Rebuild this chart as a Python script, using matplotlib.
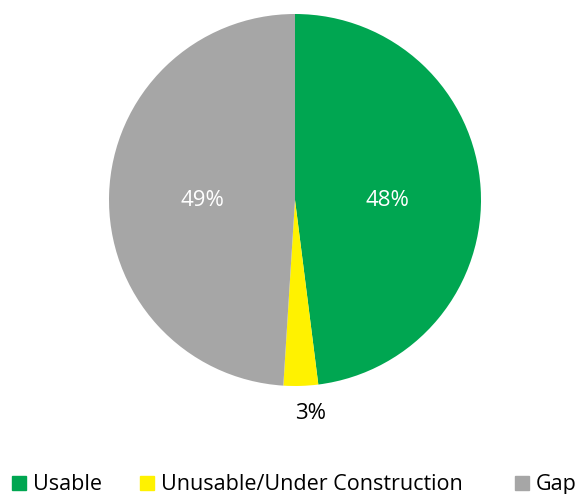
import matplotlib.pyplot as plt
from matplotlib.patches import Rectangle

labels = ['Usable', 'Unusable/Under Construction', 'Gap']
shares = [48, 3, 49]
colors = ['#00a651', '#fff200', '#a6a6a6']

plt.rcParams['font.family'] = ['Open Sans', 'DejaVu Sans']

W, H = 577, 494
fig = plt.figure(figsize=(W / 100, H / 100), dpi=100)

# pie: centre (295, 200) px, radius 186 px
cx, cy, r = 295, 200, 186
ax = fig.add_axes(((cx - r) / W, (H - cy - r) / H, 2 * r / W, 2 * r / H))
wedges, texts, autotexts = ax.pie(
    shares, colors=colors, startangle=90, counterclock=False,
    autopct='%d%%', pctdistance=0.5,
    textprops={'color': 'white', 'fontsize': 16},
)
ax.set_xlim(-1, 1)
ax.set_ylim(-1, 1)
ax.set_aspect('equal')
# big slice labels sit level with the centre
for t in (autotexts[0], autotexts[2]):
    x, y = t.get_position()
    t.set_position((x, 0))
# small slice label sits outside, in black
x, y = autotexts[1].get_position()
autotexts[1].set_position((x * 2.3 + 0.05, y * 2.3))
autotexts[1].set_color('black')
autotexts[1].set_clip_on(False)

# legend, placed by hand along the bottom
sq = 14
base = 490
legend_x = [12, 140, 515]
for lx, lab, col in zip(legend_x, labels, colors):
    fig.patches.append(Rectangle((lx / W, (H - base) / H), sq / W, sq / H,
                                 transform=fig.transFigure, color=col))
    fig.text((lx + sq + 7) / W, (H - base) / H, lab, fontsize=15.5,
             ha='left', va='baseline')

fig.savefig('out.png', dpi=100)
